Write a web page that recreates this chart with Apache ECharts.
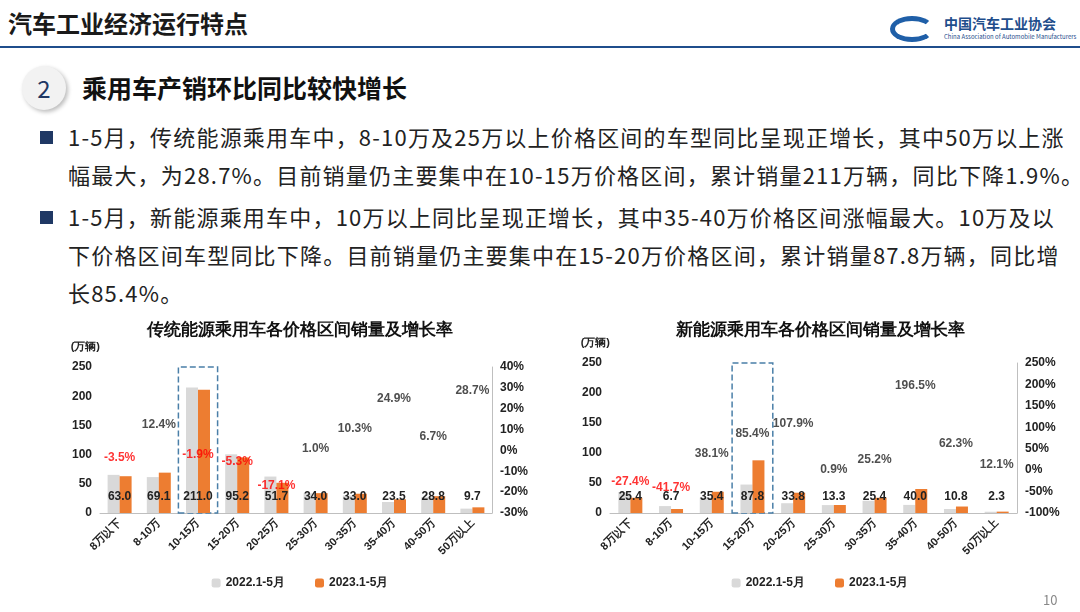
<!DOCTYPE html>
<html><head><meta charset="utf-8">
<script src="https://cdn.jsdelivr.net/npm/echarts@6/dist/echarts.min.js"></script>
<style>
body{margin:0;width:1080px;height:612px;position:relative;background:#fff;font-family:"Noto Sans CJK SC","Noto Sans",sans-serif;overflow:hidden}
.abs{position:absolute}
.bul{position:absolute;left:40px;width:1060px;font-size:22px;line-height:39px;color:#222;white-space:nowrap;letter-spacing:1.2px}
.bul span.sq{display:inline-block;width:13px;height:13px;background:#1f3864;margin-right:15px;vertical-align:2px}
</style></head><body>
<div class="abs" style="left:8px;top:5px;font-size:24px;font-weight:bold;color:#1a1a1a">汽车工业经济运行特点</div>
<div class="abs" style="left:890px;top:16px;width:44px;height:26px;border-radius:50%;border:5px solid #1f5fa8;border-right-color:transparent;box-sizing:border-box"></div>
<div class="abs" style="left:944px;top:13px;font-size:14px;font-weight:bold;color:#1f4e8c">中国汽车工业协会</div>
<div class="abs" style="left:944px;top:32px;font-size:6px;color:#1f4e8c">China Association of Automobile Manufacturers</div>
<div class="abs" style="left:0;top:46px;width:1080px;height:2px;background:#1f4e8c"></div>
<div class="abs" style="left:22px;top:66px;width:44px;height:44px;border-radius:50%;background:#f2f2f2;box-shadow:2px 2px 4px #bbb;text-align:center;line-height:44px;font-size:24px;color:#1f3864">2</div>
<div class="abs" style="left:82px;top:69px;font-size:25px;font-weight:bold;color:#111">乘用车产销环比同比较快增长</div>
<div class="bul" style="top:117px"><span class="sq"></span>1-5月，传统能源乘用车中，8-10万及25万以上价格区间的车型同比呈现正增长，其中50万以上涨</div>
<div class="bul" style="top:155px;left:68px">幅最大，为28.7%。目前销量仍主要集中在10-15万价格区间，累计销量211万辆，同比下降1.9%。</div>
<div class="bul" style="top:197px"><span class="sq"></span>1-5月，新能源乘用车中，10万以上同比呈现正增长，其中35-40万价格区间涨幅最大。10万及以</div>
<div class="bul" style="top:235px;left:68px">下价格区间车型同比下降。目前销量仍主要集中在15-20万价格区间，累计销量87.8万辆，同比增</div>
<div class="bul" style="top:273px;left:68px">长85.4%。</div>
<div id="c1" class="abs" style="left:60px;top:315px;width:480px;height:285px"></div>
<div id="c2" class="abs" style="left:560px;top:315px;width:520px;height:285px"></div>
<div class="abs" style="left:1043px;top:590px;font-size:13px;color:#888">10</div>
<script>
const cats=['8万以下','8-10万','10-15万','15-20万','20-25万','25-30万','30-35万','35-40万','40-50万','50万以上'];
const ice2022=[65.3,61.5,215.1,100.5,62.4,33.7,29.9,18.8,27.0,7.5];
const ice2023=[63.0,69.1,211.0,95.2,51.7,34.0,33.0,23.5,28.8,9.7];
const iceGrowth=[-3.5,12.4,-1.9,-5.3,-17.1,1.0,10.3,24.9,6.7,28.7];
const nev2022=[35.0,11.5,25.6,47.4,16.3,13.2,20.3,13.5,6.7,2.1];
const nev2023=[25.4,6.7,35.4,87.8,33.8,13.3,25.4,40.0,10.8,2.3];
const nevGrowth=[-27.4,-41.7,38.1,85.4,107.9,0.9,25.2,196.5,62.3,12.1];

function make(el,title,d22,d23,gr,rmin,rmax,rint,grid,hiIdx){
  const c=echarts.init(document.getElementById(el));
  const ax={fontSize:12,fontWeight:'bold',color:'#222'};
  c.setOption({
    animation:false,
    title:{text:title,left:'center',top:2,textStyle:{fontSize:17,fontWeight:'bold',color:'#111'}},
    grid:grid,
    legend:{bottom:6,itemWidth:9,itemHeight:9,itemGap:30,textStyle:{fontSize:12,fontWeight:'bold',color:'#222'},data:['2022.1-5月','2023.1-5月']},
    xAxis:{type:'category',data:cats,axisTick:{show:false},axisLine:{lineStyle:{color:'#bfbfbf'}},axisLabel:{rotate:45,fontSize:11,fontWeight:'bold',color:'#222',interval:0}},
    yAxis:[{type:'value',min:0,max:250,interval:50,name:'(万辆)',nameTextStyle:{fontSize:11,fontWeight:'bold',color:'#222',align:'right'},splitLine:{show:false},axisLine:{show:false},axisLabel:ax},
           {type:'value',min:rmin,max:rmax,interval:rint,splitLine:{show:false},axisLine:{show:true,lineStyle:{color:'#bfbfbf'}},axisLabel:Object.assign({formatter:'{value}%'},ax)}],
    series:[
      {name:'2022.1-5月',type:'bar',data:d22,barWidth:12,barGap:'0%',itemStyle:{color:'#d9d9d9'}},
      {name:'2023.1-5月',type:'bar',data:d23,barWidth:12,itemStyle:{color:'#ed7d31'},
        label:{show:true,position:'insideBottom',distance:10,offset:[-6,0],formatter:p=>p.value.toFixed(1),fontSize:12,fontWeight:'bold',color:'#222'},
        markArea:{silent:true,itemStyle:{color:'rgba(0,0,0,0)',borderColor:'#4a7fa8',borderWidth:1.5,borderType:'dashed',borderRadius:8},data:[[{xAxis:cats[hiIdx],yAxis:0},{xAxis:cats[hiIdx],yAxis:250}]]}},
      {type:'scatter',yAxisIndex:1,symbolSize:0,
        data:gr.map(v=>({value:v,label:{color:v<0?'#ff0000':'#222'}})),
        label:{show:true,position:'inside',formatter:p=>p.value.toFixed(1)+'%',fontSize:12,fontWeight:'bold'}}
    ]
  });
}
make('c1','传统能源乘用车各价格区间销量及增长率',ice2022,ice2023,iceGrowth,-30,40,10,{left:40,right:48,top:52,bottom:87},2);
make('c2','新能源乘用车各价格区间销量及增长率',nev2022,nev2023,nevGrowth,-100,250,50,{left:50,right:63,top:48,bottom:87},3);
</script>
</body></html>
